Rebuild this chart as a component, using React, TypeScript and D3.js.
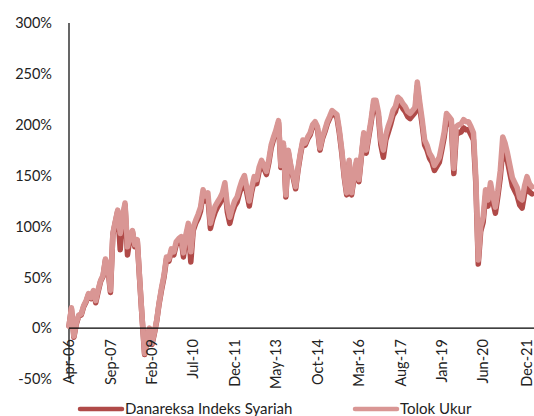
import React, { useEffect, useRef } from "react";
import * as d3 from "d3";

// monthly closes, Apr-06 .. Feb-22 (cumulative return, %)
const startMonth = new Date(2006, 3, 1);

const tolokUkur = [
  2, 20, -8, 5, 13, 14, 22, 27, 34, 30, 37, 27,
  38, 47, 52, 68, 60, 37, 93, 105, 116, 93, 110, 123,
  80, 90, 96, 82, 87, 47, 10, -25, -10, 0, -15, -5,
  8, 25, 40, 52, 70, 68, 78, 75, 85, 88, 90, 74,
  92, 103, 75, 99, 106, 112, 119, 136, 130, 133, 103, 112,
  120, 124, 128, 133, 143, 120, 109, 118, 125, 129, 138, 145,
  150, 138, 125, 138, 149, 146, 158, 165, 160, 154, 166, 180,
  188, 195, 204, 160, 182, 131, 175, 160, 150, 139, 158, 172,
  185, 182, 188, 192, 200, 203, 198, 177, 188, 195, 203, 208,
  214, 212, 210, 195, 175, 150, 133, 165, 133, 150, 165, 146,
  170, 192, 175, 190, 205, 224, 224, 212, 185, 175, 190, 198,
  205, 214, 218, 227, 225, 221, 218, 213, 211, 214, 217, 242,
  222, 205, 185, 180, 172, 168, 160, 164, 168, 180, 193, 211,
  208, 205, 157, 198, 200, 201, 205, 203, 203, 198, 192, 149,
  67, 100, 109, 136, 126, 143, 130, 119, 135, 155, 188, 182,
  172, 160, 148, 143, 138, 128, 126, 140, 149, 142, 139,
];

const danareksa = [
  2, 19, -9, 4, 12, 13, 21, 26, 33, 29, 36, 25,
  36, 46, 51, 67, 58, 35, 92, 104, 115, 77, 108, 121,
  72, 88, 95, 80, 86, 46, 9, -26, -11, -1, -16, -6,
  7, 24, 38, 50, 68, 66, 76, 72, 82, 85, 87, 70,
  89, 100, 65, 96, 103, 108, 115, 132, 125, 128, 98, 107,
  114, 119, 123, 128, 138, 114, 103, 113, 120, 124, 133, 140,
  145, 133, 120, 134, 145, 142, 154, 162, 157, 151, 163, 177,
  186, 193, 202, 158, 180, 129, 173, 158, 148, 137, 156, 170,
  183, 180, 186, 190, 198, 201, 196, 175, 186, 193, 201, 206,
  212, 210, 207, 192, 172, 148, 131, 163, 131, 148, 163, 144,
  168, 189, 172, 187, 202, 220, 220, 208, 180, 168, 185, 192,
  200, 209, 213, 222, 220, 216, 213, 208, 206, 209, 212, 238,
  217, 200, 180, 175, 167, 163, 155, 159, 163, 175, 188, 206,
  202, 199, 152, 190, 192, 193, 197, 195, 195, 190, 185, 143,
  63, 95, 104, 130, 120, 137, 124, 113, 129, 148, 175, 170,
  164, 152, 140, 135, 130, 121, 118, 132, 140, 134, 132,
];

const xTickLabels = [
  "Apr-06", "Sep-07", "Feb-09", "Jul-10", "Dec-11", "May-13",
  "Oct-14", "Mar-16", "Aug-17", "Jan-19", "Jun-20", "Dec-21",
];
const yTicks = [-50, 0, 50, 100, 150, 200, 250, 300];

const seriesNames = ["Danareksa Indeks Syariah", "Tolok Ukur"];
const colors = ["#B04A48", "#D99694"];

const W = 534;
const H = 416;
const FONT = "Lato, 'Open Sans', sans-serif";

export default function App() {
  const svgRef = useRef<SVGSVGElement>(null);

  useEffect(() => {
    const svg = d3.select(svgRef.current);
    svg.selectAll("*").remove();

    const dates = tolokUkur.map((_, i) => d3.timeMonth.offset(startMonth, i));

    const x = d3
      .scaleTime()
      .domain([startMonth, new Date(2021, 11, 1)])
      .range([69, 527]);

    const y = d3.scaleLinear().domain([-50, 300]).range([379, 23]);

    // y labels
    svg
      .append("g")
      .selectAll("text")
      .data(yTicks)
      .enter()
      .append("text")
      .attr("x", 52)
      .attr("y", (d) => y(d))
      .attr("dy", "0.36em")
      .attr("text-anchor", "end")
      .style("font-family", FONT)
      .style("font-size", "14.5px")
      .attr("fill", "#222")
      .text((d) => `${d}%`);

    // vertical axis line
    svg
      .append("line")
      .attr("x1", 69)
      .attr("x2", 69)
      .attr("y1", y(300))
      .attr("y2", y(-50))
      .attr("stroke", "#000")
      .attr("stroke-width", 1.2);

    // series, dark one underneath
    const line = d3
      .line<number>()
      .x((_, i) => x(dates[i]))
      .y((d) => y(d));

    [danareksa, tolokUkur].forEach((vals, k) => {
      svg
        .append("path")
        .datum(vals)
        .attr("d", line)
        .attr("fill", "none")
        .attr("stroke", colors[k])
        .attr("stroke-width", 5.5)
        .attr("stroke-linejoin", "round")
        .attr("stroke-linecap", "round");
    });

    // zero line (horizontal axis)
    svg
      .append("line")
      .attr("x1", 69)
      .attr("x2", W)
      .attr("y1", y(0))
      .attr("y2", y(0))
      .attr("stroke", "#000")
      .attr("stroke-width", 1.2);

    // rotated x labels
    const parse = d3.timeParse("%b-%y");
    svg
      .append("g")
      .selectAll("text")
      .data(xTickLabels)
      .enter()
      .append("text")
      .attr("transform", (d) => `translate(${x(parse(d) as Date)},${y(0) + 11}) rotate(-90)`)
      .attr("dy", "0.36em")
      .attr("text-anchor", "end")
      .style("font-family", FONT)
      .style("font-size", "14.5px")
      .attr("fill", "#222")
      .text((d) => d);

    // legend
    const legend = svg.append("g");
    const legendX = [80, 355];
    seriesNames.forEach((name, k) => {
      legend
        .append("line")
        .attr("x1", legendX[k])
        .attr("x2", legendX[k] + 42)
        .attr("y1", 409)
        .attr("y2", 409)
        .attr("stroke", colors[k])
        .attr("stroke-width", 4.5)
        .attr("stroke-linecap", "round");
      legend
        .append("text")
        .attr("x", legendX[k] + 45)
        .attr("y", 414)
        .style("font-family", FONT)
        .style("font-size", "15px")
        .attr("fill", "#222")
        .text(name);
    });
  }, []);

  return (
    <svg
      ref={svgRef}
      width={W}
      height={H}
      style={{ position: "absolute", left: 0, top: 0, background: "#fff" }}
    />
  );
}
